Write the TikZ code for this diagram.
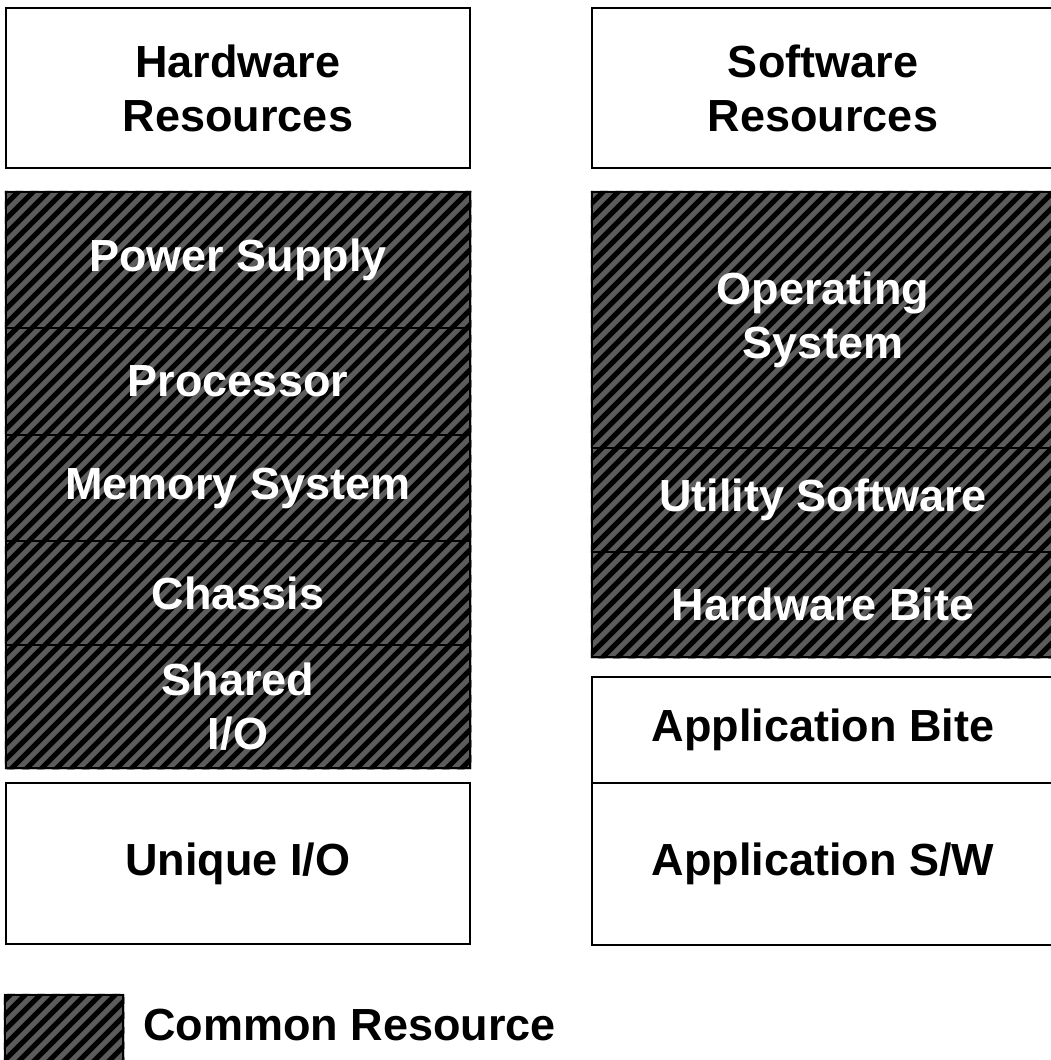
\documentclass[tikz,border=0pt]{standalone}
\usepackage{fontspec}
\setmainfont{Liberation Sans}
\usetikzlibrary{backgrounds}
\definecolor{hatchgray}{RGB}{92,92,92}
\tikzset{
  cell/.style={draw=black, line width=2.5pt, inner sep=0pt, align=center,
    font=\fontsize{45}{54}\selectfont\bfseries},
  plainbox/.style={cell, fill=white, text=black},
  commonbox/.style={cell, text=white},
  hatchline/.style={draw=black, line width=5pt},
  leftcol/.style={minimum width=464pt},
  rightcol/.style={minimum width=462pt},
}
\begin{document}
\begin{tikzpicture}[x=1pt, y=-1pt]
\useasboundingbox (0,0) rectangle (1050,1060);
% left column
\node[plainbox, leftcol, minimum height=160pt] (hwres) at (238,88) {Hardware\\Resources};
\node[commonbox, leftcol, minimum height=136pt] (power) at (238,260) {Power Supply};
\node[commonbox, leftcol, minimum height=107pt] (proc) at (238,381.5) {Processor};
\node[commonbox, leftcol, minimum height=106pt] (mem) at (238,488) {Memory System};
\node[commonbox, leftcol, minimum height=104pt] (chassis) at (238,593) {Chassis};
\node[commonbox, leftcol, minimum height=123pt] (shared) at (238,706.5) {Shared\\I/O};
\node[plainbox, leftcol, minimum height=161pt] (unique) at (238,863.5) {Unique I/O};
% right column
\node[plainbox, rightcol, minimum height=160pt] (swres) at (823,88) {Software\\Resources};
\node[commonbox, rightcol, minimum height=256pt] (os) at (823,320) {Operating\\System};
\node[commonbox, rightcol, minimum height=104pt] (util) at (823,500) {Utility Software};
\node[commonbox, rightcol, minimum height=105pt] (hwbite) at (823,604.5) {Hardware Bite};
\node[plainbox, rightcol, minimum height=106pt] (appbite) at (823,730) {Application Bite};
\node[plainbox, rightcol, minimum height=162pt] (appsw) at (823,864) {Application S/W};
% legend
\node[commonbox, minimum width=118pt, minimum height=105pt] (legend) at (64,1047.5) {};
\node[anchor=base west, inner sep=0pt, font=\fontsize{45}{54}\selectfont\bfseries] (legendtext) at (143,1040) {Common Resource};
% hatching of the common resources
\begin{pgfonlayer}{background}
  \begin{scope}
    \clip (power.north west) rectangle (shared.south east)
          (os.north west) rectangle (hwbite.south east)
          (legend.north west) rectangle (legend.south east);
    \fill[hatchgray] (-10,-10) rectangle (1070,1110);
    \foreach \c in {-1110,-1095,...,1065}
      \draw[hatchline] (\c,1110) -- (\c+1120,-10);
  \end{scope}
\end{pgfonlayer}
\end{tikzpicture}
\end{document}
